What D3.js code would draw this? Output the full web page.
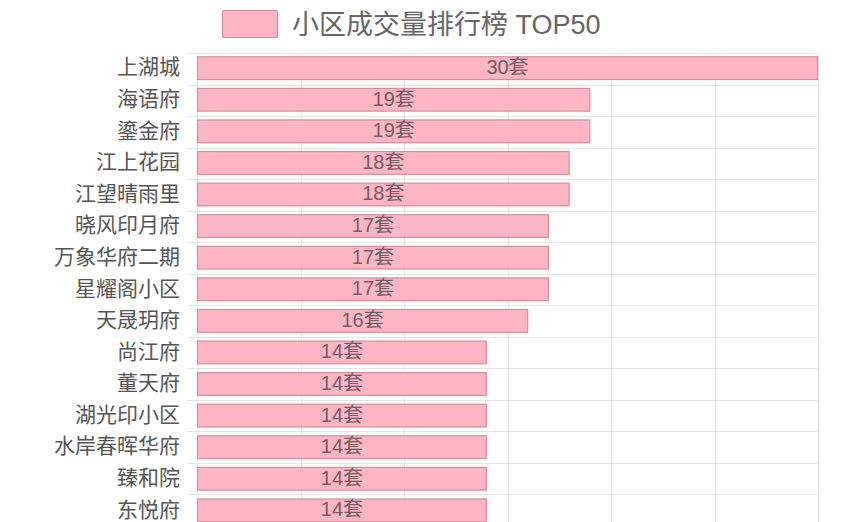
<!DOCTYPE html>
<html>
<head>
  <meta charset="UTF-8" />
  <title>小区成交量排行榜 TOP50</title>
  <script src="https://d3js.org/d3.v7.min.js"></script>
  <style>
    html, body { margin: 0; padding: 0; background: #fff; }
    svg { display: block; font-family: "Liberation Sans", "Noto Sans CJK SC", sans-serif; }
  </style>
</head>
<body>
<svg width="864" height="522"></svg>
<script>
  // data
  var communities = ["上湖城", "海语府", "鎏金府", "江上花园", "江望晴雨里", "晓风印月府", "万象华府二期",
    "星耀阁小区", "天晟玥府", "尚江府", "董天府", "湖光印小区", "水岸春晖华府", "臻和院", "东悦府"];
  var deals = [30, 19, 19, 18, 18, 17, 17, 17, 16, 14, 14, 14, 14, 14, 14];
  var xTicks = [0, 5, 10, 15, 20, 25, 30];
  var legendLabel = "小区成交量排行榜 TOP50";

  var svg = d3.select("svg");
  var plotLeft = 197, plotRight = 818, plotTop = 53, step = 31.5;
  var plotBottom = plotTop + step * communities.length;

  var x = d3.scaleLinear().domain([0, 30]).range([plotLeft, plotRight]);
  var y = d3.scaleBand().domain(communities)
    .range([plotTop, plotBottom])
    .paddingInner(0.28).paddingOuter(0.12);

  var grid = svg.append("g").attr("stroke", "#e4e4e4").attr("stroke-width", 1);

  // vertical grid lines
  grid.selectAll("line.v").data(xTicks).enter().append("line")
    .attr("x1", function(d) { return Math.round(x(d)) + 0.5; })
    .attr("x2", function(d) { return Math.round(x(d)) + 0.5; })
    .attr("y1", plotTop).attr("y2", plotBottom);

  // horizontal lines at band boundaries, with a short tick on the left
  var bounds = d3.range(communities.length + 1).map(function(i) { return plotTop + i * step; });
  grid.selectAll("line.h").data(bounds).enter().append("line")
    .attr("x1", plotLeft - 10).attr("x2", plotRight)
    .attr("y1", function(d) { return Math.round(d) + 0.5; })
    .attr("y2", function(d) { return Math.round(d) + 0.5; });

  // category axis labels
  svg.append("g").selectAll("text").data(communities).enter().append("text")
    .attr("x", plotLeft - 17)
    .attr("y", function(d) { return y(d) + y.bandwidth() / 2; })
    .attr("dy", "0.3em")
    .attr("text-anchor", "end")
    .attr("font-size", 21)
    .attr("fill", "#555")
    .text(function(d) { return d; });

  // bars
  svg.append("g").selectAll("rect").data(deals).enter().append("rect")
    .attr("x", x(0) + 0.5)
    .attr("y", function(d, i) { return y(communities[i]); })
    .attr("width", function(d) { return x(d) - x(0) - 1; })
    .attr("height", y.bandwidth())
    .attr("fill", "#ffb5c3")
    .attr("stroke", "#d98c9c")
    .attr("stroke-width", 1.2);

  // value labels in the middle of each bar
  svg.append("g").selectAll("text").data(deals).enter().append("text")
    .attr("x", function(d) { return (x(0) + x(d)) / 2; })
    .attr("y", function(d, i) { return y(communities[i]) + y.bandwidth() / 2; })
    .attr("dy", "0.3em")
    .attr("text-anchor", "middle")
    .attr("font-size", 20)
    .attr("fill", "#735e63")
    .text(function(d) { return d + "套"; });

  // legend
  var legend = svg.append("g");
  legend.append("rect")
    .attr("x", 222.5).attr("y", 10.5).attr("width", 55).attr("height", 27)
    .attr("rx", 2)
    .attr("fill", "#ffb5c3").attr("stroke", "#d98c9c").attr("stroke-width", 1.2);
  legend.append("text")
    .attr("x", 292).attr("y", 24).attr("dy", "0.36em")
    .attr("font-size", 27)
    .attr("fill", "#666")
    .text(legendLabel);
</script>
</body>
</html>
